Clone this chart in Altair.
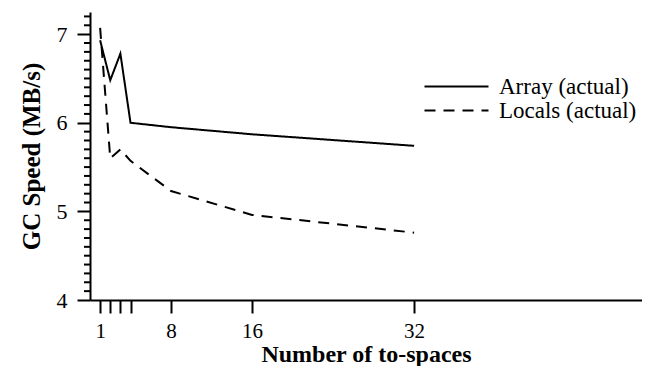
import altair as alt
import pandas as pd

# ---- data ----
to_spaces = [1, 2, 3, 4, 8, 16, 32]
array_actual = [6.93, 6.48, 6.78, 6.00, 5.95, 5.87, 5.74]
locals_actual = [7.07, 5.60, 5.70, 5.57, 5.23, 4.96, 4.76]
series_names = ["Array (actual)", "Locals (actual)"]

x_tick_values = [1, 2, 3, 4, 8, 16, 32]
x_tick_labels = [1, 8, 16, 32]
y_major = [4, 5, 6, 7]
y_minor = [round(4 + i * 0.1, 1) for i in range(33) if i % 10 != 0]

rows = []
for n, a, l in zip(to_spaces, array_actual, locals_actual):
    rows.append({"n": n, "speed": a, "series": series_names[0]})
    rows.append({"n": n, "speed": l, "series": series_names[1]})
df = pd.DataFrame(rows)

FONT = "Liberation Serif"
Y_TITLE = "GC Speed (MB/s)"
y_scale = alt.Scale(domain=[4, 7.25], nice=False, zero=False)

x_label_test = " || ".join(f"datum.value === {v}" for v in x_tick_labels)

lines = (
    alt.Chart(df)
    .mark_line(strokeWidth=2, color="black")
    .encode(
        x=alt.X(
            "n:Q",
            scale=alt.Scale(domain=[0, 54.5], nice=False, zero=False),
            axis=alt.Axis(
                values=x_tick_values,
                labelExpr=f"({x_label_test}) ? datum.label : ''",
                tickSize=13,
                tickWidth=2,
                domainWidth=2,
                domainColor="black",
                tickColor="black",
                labelColor="black",
                labelFont=FONT,
                labelFontSize=21,
                labelPadding=7,
                grid=False,
                title="Number of to-spaces",
                titleFont=FONT,
                titleFontSize=24,
                titleFontWeight="bold",
                titleColor="black",
                titlePadding=1,
            ),
        ),
        y=alt.Y(
            "speed:Q",
            scale=y_scale,
            title=Y_TITLE,
            axis=alt.Axis(
                values=y_major,
                format="d",
                tickSize=13,
                tickWidth=2,
                domainWidth=2,
                domainColor="black",
                tickColor="black",
                labelColor="black",
                labelFont=FONT,
                labelFontSize=22,
                labelPadding=10,
                grid=False,
                titleFont=FONT,
                titleFontSize=25,
                titleFontWeight="bold",
                titleColor="black",
                titlePadding=12,
            ),
        ),
        strokeDash=alt.StrokeDash(
            "series:N",
            scale=alt.Scale(domain=series_names, range=[[1, 0], [11, 8]]),
            legend=alt.Legend(
                orient="none",
                legendX=355,
                legendY=63,
                title=None,
                symbolType="M-4,0H4",
                symbolSize=256,
                symbolStrokeWidth=2,
                symbolStrokeColor="black",
                labelFont=FONT,
                labelFontSize=23,
                labelColor="black",
                labelOffset=31,
                rowPadding=-6.5,
            ),
        ),
    )
)

minor_ticks = (
    alt.Chart(pd.DataFrame({"speed": y_minor}))
    .mark_tick(color="black", thickness=2, size=6, orient="horizontal", opacity=1)
    .encode(
        y=alt.Y("speed:Q", scale=y_scale, title=Y_TITLE),
        x=alt.value(-3),
    )
)

chart = (
    alt.layer(lines, minor_ticks)
    .properties(
        width=552,
        height=288,
        autosize=alt.AutoSizeParams(type="none"),
        padding={"left": 82, "top": 4, "right": 0, "bottom": 66},
    )
    .configure_view(stroke=None)
)

chart.save("out.html", embed_options={"renderer": "svg", "actions": False})
